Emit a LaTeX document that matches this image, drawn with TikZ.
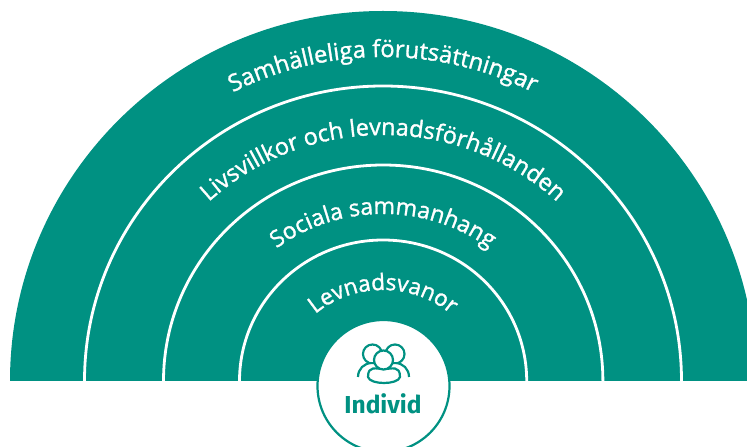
\documentclass[tikz,border=0pt]{standalone}
\usepackage{fontspec}
\setmainfont{Open Sans}[FakeBold=1.4]
\newfontfamily\boldlabel{Fira Sans}[UprightFont=*,BoldFont=* Bold]
\usetikzlibrary{decorations.text}
\definecolor{teal1}{HTML}{009182}
\newcommand{\arclabel}[4]{% radius x, radius y, size, text
  \path[decorate,decoration={text along path,text align=center,text color=white,
    text={|\fontsize{#3}{#3}\selectfont|#4}}]
    (383-#1,66) arc (180:0:#1 and #2);}
\tikzset{
  ringline/.style={draw=white,line width=2.8pt,fill=teal1},
  personline/.style={draw=teal1,line width=2.2pt,fill=white,line join=round},
}
\begin{document}
\begin{tikzpicture}[x=1pt,y=1pt]
\useasboundingbox (0,0) rectangle (747,447);
\clip (0,0) rectangle (747,447);
% bands
\fill[teal1] (10,66) arc (180:0:373 and 370) -- cycle;
\draw[ringline] (84.5,66) arc (180:0:298.5 and 295);
\draw[ringline] (163.5,66) arc (180:0:219.7 and 216);
\draw[ringline] (239.5,66) arc (180:0:143.6 and 141);
% curved labels
\arclabel{330}{324}{23.6}{Samhälleliga förutsättningar}
\arclabel{254}{246}{23.4}{Livsvillkor och levnadsförhållanden}
\arclabel{175}{167}{23}{Sociala sammanhang}
\arclabel{100}{91}{22.5}{Levnadsvanor}
% centre disc
\node[name=disc,circle,draw=teal1,line width=2.2pt,fill=white,minimum size=132pt,inner sep=0pt] at (383.5,61) {};
% icon
\draw[personline] (372.5,93) circle (9.5);
\draw[personline] (395,93) circle (9.5);
\draw[personline] (358,70) .. controls (358,78) and (364,84) .. (372,84) -- (395,84) .. controls (403,84) and (409,78) .. (409,70);
\fill[white] (372.5,93) circle (8);
\fill[white] (395,93) circle (8);
\draw[personline] (368,70) .. controls (368,82) and (376,78) .. (384,78) .. controls (392,78) and (400,82) .. (400,70) .. controls (398,62) and (370,62) .. (368,70) -- cycle;
\draw[personline] (383.5,87) circle (9.5);
\node[name=individ,text=teal1,inner sep=0pt,font={\boldlabel\bfseries\fontsize{24.5}{24.5}\selectfont}] at (383,43) {Individ};
\end{tikzpicture}
\end{document}
